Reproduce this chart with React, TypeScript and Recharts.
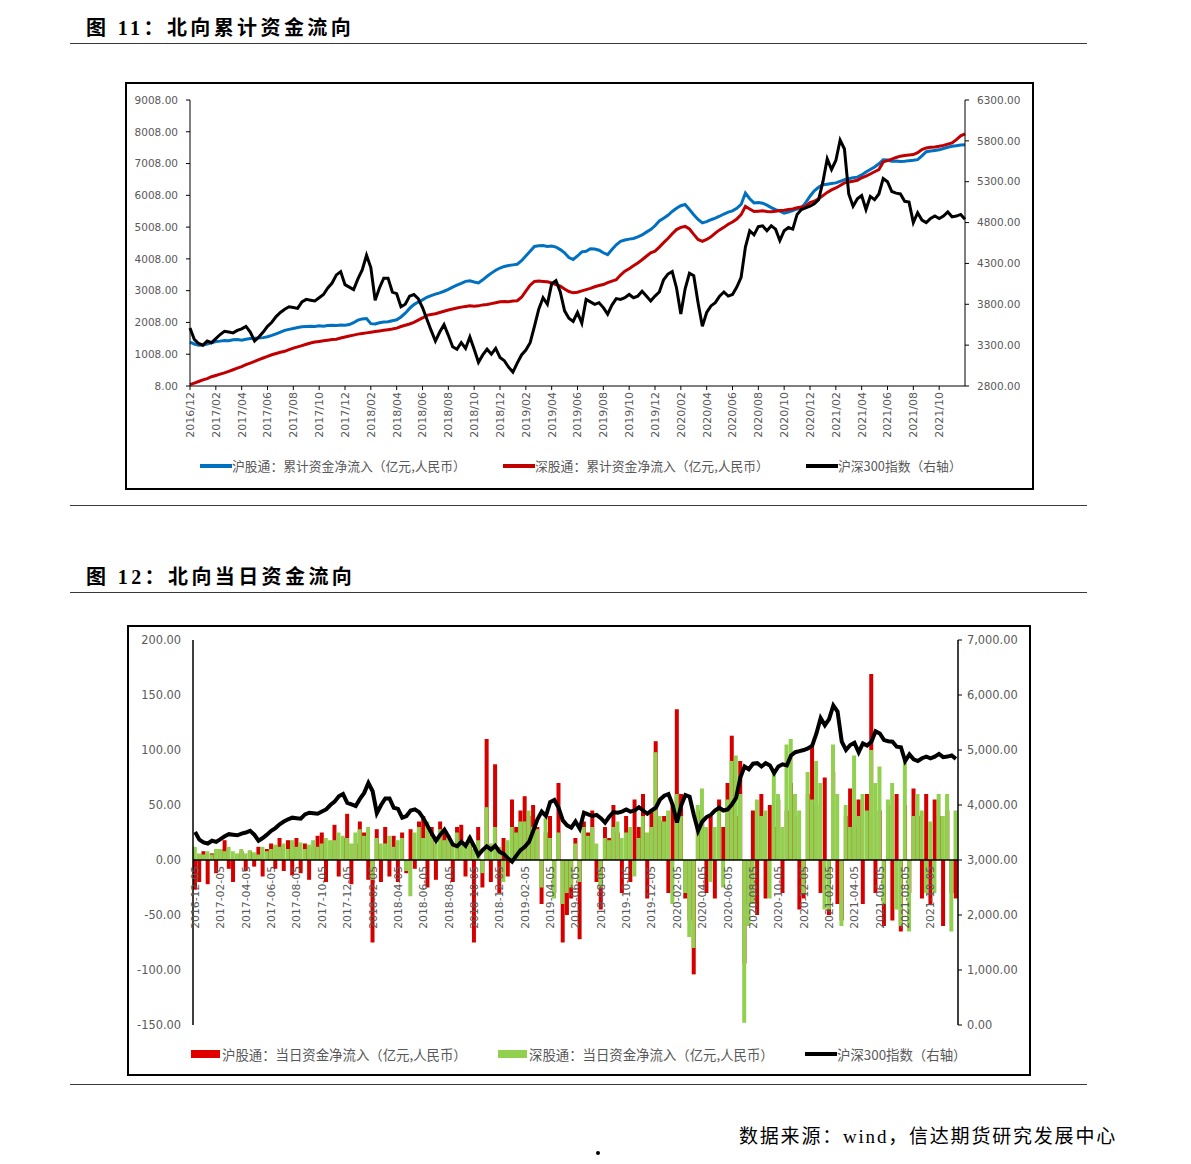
import { LineChart, ComposedChart, Line, Bar, XAxis, YAxis, ReferenceLine } from "recharts";

// months on the category axis (three readings per month: 05 / 15 / 25)
const months = [
  "2016-12",
  "2017-01", "2017-02", "2017-03", "2017-04", "2017-05", "2017-06", "2017-07", "2017-08", "2017-09", "2017-10", "2017-11", "2017-12",
  "2018-01", "2018-02", "2018-03", "2018-04", "2018-05", "2018-06", "2018-07", "2018-08", "2018-09", "2018-10", "2018-11", "2018-12",
  "2019-01", "2019-02", "2019-03", "2019-04", "2019-05", "2019-06", "2019-07", "2019-08", "2019-09", "2019-10", "2019-11", "2019-12",
  "2020-01", "2020-02", "2020-03", "2020-04", "2020-05", "2020-06", "2020-07", "2020-08", "2020-09", "2020-10", "2020-11", "2020-12",
  "2021-01", "2021-02", "2021-03", "2021-04", "2021-05", "2021-06", "2021-07", "2021-08", "2021-09", "2021-10", "2021-11", "2021-12",
];
const days = ["05", "15", "25"];

// 沪股通 cumulative net inflow (亿元)
const hgtCum = [
  1390, 1330, 1290, 1300, 1330, 1370, 1410, 1420, 1440, 1430,
  1460, 1470, 1450, 1480, 1500, 1510, 1520, 1530, 1560, 1600,
  1650, 1700, 1760, 1790, 1820, 1850, 1870, 1880, 1890, 1880,
  1900, 1890, 1910, 1920, 1910, 1930, 1920, 1940, 2000, 2080,
  2120, 2130, 1970, 1960, 2000, 2020, 2030, 2060, 2090, 2180,
  2300, 2450, 2570, 2650, 2720, 2800, 2850, 2900, 2940, 2990,
  3050, 3120, 3180, 3240, 3300, 3320, 3280, 3250, 3350, 3460,
  3560, 3650, 3720, 3770, 3800, 3820, 3840, 3950, 4100, 4250,
  4400, 4420, 4430, 4400, 4410, 4380, 4300, 4200, 4050, 3990,
  4100, 4230, 4250, 4330, 4320, 4280, 4200, 4140, 4300, 4450,
  4560, 4600, 4630, 4650, 4700, 4760, 4850, 4930, 5050, 5200,
  5290, 5380, 5500, 5600, 5680, 5720, 5560, 5400, 5250, 5140,
  5180, 5240, 5290, 5350, 5420, 5480, 5520, 5600, 5720, 6080,
  5900, 5770, 5780, 5760, 5700, 5620, 5560, 5510, 5450, 5480,
  5530, 5580, 5610, 5780, 5980, 6150, 6260, 6340, 6360, 6380,
  6400, 6450, 6500, 6530, 6560, 6580, 6650, 6740, 6820, 6900,
  7000, 7130, 7120, 7080, 7090, 7070, 7080, 7100, 7110, 7130,
  7250, 7380, 7400, 7420, 7440, 7480, 7520, 7550, 7570, 7590,
  7600,
];

// 深股通 cumulative net inflow (亿元)
const sgtCum = [
  50, 100, 150, 200, 240, 300, 340, 380, 420, 470,
  520, 570, 620, 680, 730, 780, 840, 890, 940, 990,
  1030, 1070, 1100, 1150, 1200, 1240, 1280, 1320, 1360, 1390,
  1410, 1430, 1450, 1470, 1480, 1520, 1550, 1580, 1610, 1640,
  1660, 1680, 1700, 1720, 1740, 1760, 1780, 1800, 1830, 1880,
  1920, 1960, 2010, 2080, 2150, 2230, 2260, 2280, 2320, 2360,
  2400, 2430, 2460, 2490, 2510, 2530, 2520, 2530, 2560, 2570,
  2600, 2630, 2660, 2670, 2660, 2680, 2690, 2800, 2990, 3180,
  3300, 3310, 3300, 3290, 3250, 3200, 3150, 3060, 2980, 2940,
  2960, 3000, 3040, 3080, 3130, 3170, 3200, 3260, 3310, 3350,
  3500, 3620, 3700, 3790, 3880, 3980, 4090, 4200, 4250, 4380,
  4520, 4650, 4800, 4930, 5000, 5030, 4950, 4780, 4620, 4560,
  4620, 4700, 4820, 4920, 5000, 5100, 5170, 5260, 5400, 5660,
  5580, 5500, 5510, 5520, 5500, 5490, 5510, 5530, 5540, 5560,
  5580, 5620, 5640, 5660, 5780, 5820, 5900, 6000, 6100, 6180,
  6240, 6320, 6400, 6430, 6450, 6480, 6560, 6610, 6680, 6750,
  6820, 7060, 7100, 7150, 7200, 7240, 7260, 7280, 7290, 7350,
  7450, 7500, 7520, 7530, 7550, 7580, 7620, 7660, 7760, 7880,
  7940,
];

// 沪深300 index (right axis)
const csi300 = [
  3510, 3370, 3320, 3300, 3350, 3330, 3380, 3430, 3470, 3460,
  3450, 3480, 3500, 3530, 3460, 3350, 3400, 3460, 3530, 3580,
  3650, 3700, 3740, 3770, 3760, 3750, 3830, 3860, 3850, 3840,
  3880, 3920, 4000, 4060, 4160, 4200, 4040, 4010, 3980, 4110,
  4220, 4400, 4250, 3850, 4000, 4120, 4120, 3950, 3930, 3770,
  3800, 3900, 3920, 3870, 3760, 3620, 3480, 3350, 3460, 3550,
  3420, 3280, 3250, 3330, 3260, 3400, 3250, 3090, 3180, 3250,
  3190, 3260, 3150, 3110, 3030, 2970, 3080, 3180, 3240, 3330,
  3530, 3740, 3880, 3800, 4050, 4090, 3950, 3720, 3630, 3590,
  3700, 3570, 3860, 3830, 3800, 3820, 3760, 3680, 3790, 3870,
  3860, 3880, 3920, 3880, 3900, 3960, 3900, 3840, 3900, 3950,
  4100, 4170, 4200, 4000, 3680, 3990, 4180, 4150, 3820, 3530,
  3700, 3780, 3820, 3900, 3950, 3900, 3920, 4010, 4130, 4500,
  4700, 4650, 4750, 4760, 4700, 4760, 4720, 4580, 4700, 4740,
  4720, 4900, 4960, 4980, 5000, 5030, 5080, 5300, 5580, 5450,
  5560, 5810, 5700, 5150, 5000, 5090, 5130, 4960, 5120, 5080,
  5150, 5340, 5300, 5180, 5160, 5150, 5060, 5050, 4800, 4920,
  4830, 4800, 4850, 4880, 4850, 4880, 4930, 4870, 4880, 4900,
  4840,
];

// 沪股通 daily net inflow (亿元)
const hgtDaily = [
  -27, -20, 8, -22, 6, -12, 10, 18, -8, -20, 5, 8,
  -10, 8, -6, 12, -15, 10, 15, -8, 20, -10, 18, -14,
  20, -12, 15, -18, 12, 22, 25, -20, 14, 32, -15, 20,
  42, -22, 15, 35, 25, -18, -75, 28, -20, 30, -15, 22,
  -20, 25, -12, 28, -8, 35, 40, -25, 30, -18, 35, 25,
  22, -20, 30, 32, -15, 20, -75, 30, -25, 110, -20, 87,
  -30, 20, -15, 55, 30, 45, 58, 40, 50, 30, -40, 25,
  40, -30, 70, -75, -50, -35, 20, -72, 35, 25, 45, -20,
  -45, 30, 20, 50, 25, -30, 40, -20, 55, 30, 60, -35,
  45, 108, 35, 40, -30, 50, 137, 60, -35, -55, -104, 45,
  35, -30, 40, -35, 55, 30, 70, 113, 40, 90, -94, -40,
  45, -50, 60, -35, 50, 30, 55, -30, 45, 70, 40, -45,
  -35, 60, 104, 50, -30, 75, -50, 80, -40, -55, 40, 65,
  30, 55, -40, 60, 169, -30, 45, -60, 50, -55, 60, -65,
  50, -30, 65, 40, -35, 60, -40, 55, 40, -60, 45, -30,
  -35,
];

// 深股通 daily net inflow (亿元)
const sgtDaily = [
  12, 6, 5, 8, 5, 10, 10, 8, 12, 8, 6, 10,
  6, 9, 7, 5, 12, 8, 10, 14, 12, 15, 10, 18,
  12, 16, 10, 14, 18, 12, 15, 20, 18, 18, 25, 22,
  20, 15, 25, 28, 22, 30, -18, 20, 15, 15, 22, 12,
  18, 20, -10, -33, 25, 30, 20, 35, 22, 15, 28, 18,
  20, 15, 25, 18, 12, 22, 10, 18, -12, 48, 15, 30,
  12, -20, 18, 30, 25, 35, 35, 45, 30, 28, -25, 38,
  20, -35, 25, -40, -30, -25, 15, -20, 30, 22, 30, 15,
  -25, 20, 18, 30, 35, 20, 25, 30, -15, 20, 40, 25,
  30, 98, 40, 35, 45, -40, 60, 40, -30, -70, -80, 50,
  65, 30, -20, 30, 45, -25, 55, 90, 95, 60, -148, -60,
  -40, 55, 40, 45, -35, 80, 60, 30, 105, 110, 60, 45,
  -30, 80, 55, 90, 70, -45, -45, 105, 60, -60, 50, 30,
  95, 40, 60, 45, 100, 70, 85, -40, 55, 70, -45, -60,
  90, -65, 40, 60, 45, -30, 35, -30, 60, 40, 60, -65,
  45,
];

const leftTicks1 = [8, 1008, 2008, 3008, 4008, 5008, 6008, 7008, 8008, 9008];
const rightTicks1 = [2800, 3300, 3800, 4300, 4800, 5300, 5800, 6300];
const leftTicks2 = [-150, -100, -50, 0, 50, 100, 150, 200];
const rightTicks2 = [0, 1000, 2000, 3000, 4000, 5000, 6000, 7000];

const dates = months.flatMap((m) => days.map((d) => `${m}-${d}`)).slice(0, csi300.length);
const labelDates = months.filter((_, j) => j % 2 === 0 && j <= 58).map((m) => `${m}-05`);

const data1 = dates.map((date, i) => ({ date, hgt: hgtCum[i], sgt: sgtCum[i], csi: csi300[i] }));
const data2 = dates.map((date, i) => ({ date, hgt: hgtDaily[i], sgt: sgtDaily[i], csi: csi300[i] }));

const SERIF = '"Liberation Serif", "Noto Sans CJK SC", serif';
const CJK = '"Noto Sans CJK SC", sans-serif';
const NUM = '"DejaVu Sans", sans-serif';
const GREY = "#595959";

const PLOT2_H = 385;
const ZERO_SHIFT = (PLOT2_H * 150) / 350 - 4;

const rule = { position: "absolute" as const, left: 70, width: 1017, height: 1, background: "#3a3a3a" };

const Rot1 = ({ x, y, payload }: any) => (
  <text transform={`translate(${x},${y}) rotate(-90)`} textAnchor="end" dy="0.36em"
    fontSize={11} fill={GREY} fontFamily={NUM}>
    {String(payload.value).slice(0, 7).replace("-", "/")}
  </text>
);

const ZeroTick = ({ x, y, payload }: any) => (
  <text transform={`translate(${x},${y - ZERO_SHIFT}) rotate(-90)`} textAnchor="end" dy="0.36em"
    fontSize={10.8} fill={GREY} fontFamily={NUM}>
    {payload.value}
  </text>
);

const fmt2 = (v: number) => v.toFixed(2);
const fmtComma = (v: number) => v.toLocaleString("en-US", { minimumFractionDigits: 2, maximumFractionDigits: 2 });

function LegendItem({ left, top, color, text, kind, size }: any) {
  return (
    <div style={{ position: "absolute", left, top, display: "flex", alignItems: "center", whiteSpace: "nowrap" }}>
      {kind === "line"
        ? <span style={{ width: 32, height: 4, background: color, display: "inline-block" }} />
        : <span style={{ width: 29, height: 8, background: color, display: "inline-block", marginRight: 2 }} />}
      <span style={{ fontSize: size, color: GREY, fontFamily: CJK, lineHeight: "18px" }}>{text}</span>
    </div>
  );
}

export default function App() {
  return (
    <div style={{ position: "absolute", left: 0, top: 0, width: 1191, height: 1164, background: "#fff", fontFamily: SERIF, color: "#000" }}>
      {/* Figure 11 */}
      <div style={{ position: "absolute", left: 86, top: 15, fontSize: 20, fontWeight: "bold", letterSpacing: 3.4, lineHeight: "26px", whiteSpace: "nowrap" }}>
        图 11：北向累计资金流向
      </div>
      <div style={{ ...rule, top: 43 }} />

      <div style={{ position: "absolute", left: 125, top: 82, width: 909, height: 408, border: "2px solid #000", boxSizing: "border-box" }}>
        <LineChart width={905} height={404} data={data1} margin={{ top: 16, right: 0, bottom: 42, left: 0 }}>
          <XAxis dataKey="date" scale="point" padding={{ left: 0, right: 0 }} ticks={labelDates} interval={0}
            height={60} tickSize={4} tickMargin={2} axisLine={{ stroke: "#000" }} tickLine={{ stroke: "#000" }}
            tick={(p: any) => <Rot1 {...p} />} />
          <YAxis yAxisId="l" domain={[8, 9008]} ticks={leftTicks1} width={63} tickSize={4} tickMargin={8}
            tickFormatter={fmt2} axisLine={{ stroke: "#000" }} tickLine={{ stroke: "#000" }}
            tick={{ fill: GREY, fontSize: 10.5, fontFamily: NUM }} />
          <YAxis yAxisId="r" orientation="right" domain={[2800, 6300]} ticks={rightTicks1} width={67} tickSize={4} tickMargin={8}
            tickFormatter={fmt2} axisLine={{ stroke: "#000" }} tickLine={{ stroke: "#000" }}
            tick={{ fill: GREY, fontSize: 10.5, fontFamily: NUM }} />
          <Line yAxisId="l" dataKey="hgt" stroke="#0070C0" strokeWidth={3} dot={false} isAnimationActive={false} />
          <Line yAxisId="l" dataKey="sgt" stroke="#C00000" strokeWidth={3} dot={false} isAnimationActive={false} />
          <Line yAxisId="r" dataKey="csi" stroke="#000" strokeWidth={3} dot={false} isAnimationActive={false} />
        </LineChart>
        <LegendItem left={73} top={373} color="#0070C0" kind="line" size={12.8} text="沪股通：累计资金净流入（亿元,人民币）" />
        <LegendItem left={376} top={373} color="#C00000" kind="line" size={12.8} text="深股通：累计资金净流入（亿元,人民币）" />
        <LegendItem left={679} top={373} color="#000" kind="line" size={12.8} text="沪深300指数（右轴）" />
      </div>
      <div style={{ ...rule, top: 505 }} />

      {/* Figure 12 */}
      <div style={{ position: "absolute", left: 86, top: 564, fontSize: 20, fontWeight: "bold", letterSpacing: 3.4, lineHeight: "26px", whiteSpace: "nowrap" }}>
        图 12：北向当日资金流向
      </div>
      <div style={{ ...rule, top: 592 }} />

      <div style={{ position: "absolute", left: 127, top: 625, width: 904, height: 451, border: "2px solid #000", boxSizing: "border-box" }}>
        <ComposedChart width={900} height={447} data={data2} margin={{ top: 13, right: 0, bottom: 48, left: 0 }}
          barCategoryGap={0} barGap="-100%">
          <XAxis dataKey="date" ticks={labelDates} interval={0} height={1} tickSize={0} axisLine={false} tickLine={false}
            tick={(p: any) => <ZeroTick {...p} />} />
          <YAxis yAxisId="l" domain={[-150, 200]} ticks={leftTicks2} width={64} tickSize={4} tickMargin={8}
            tickFormatter={fmt2} axisLine={{ stroke: "#000", strokeWidth: 1.5 }} tickLine={false}
            tick={{ fill: GREY, fontSize: 11.4, fontFamily: NUM }} />
          <YAxis yAxisId="r" orientation="right" domain={[0, 7000]} ticks={rightTicks2} width={71} tickSize={4} tickMargin={5}
            tickFormatter={fmtComma} axisLine={{ stroke: "#000", strokeWidth: 1.5 }} tickLine={{ stroke: "#000" }}
            tick={{ fill: GREY, fontSize: 11.4, fontFamily: NUM }} />
          <Bar yAxisId="l" dataKey="hgt" fill="#D40000" isAnimationActive={false} />
          <Bar yAxisId="l" dataKey="sgt" fill="#92D050" isAnimationActive={false} />
          <ReferenceLine yAxisId="l" y={0} stroke="#000" strokeWidth={1.5} />
          <Line yAxisId="r" dataKey="csi" stroke="#000" strokeWidth={4} dot={false} isAnimationActive={false} />
        </ComposedChart>
        <LegendItem left={62} top={418} color="#E00000" kind="rect" size={13.4} text="沪股通：当日资金净流入（亿元,人民币）" />
        <LegendItem left={369} top={418} color="#92D050" kind="rect" size={13.4} text="深股通：当日资金净流入（亿元,人民币）" />
        <LegendItem left={676} top={418} color="#000" kind="line" size={13.4} text="沪深300指数（右轴）" />
      </div>
      <div style={{ ...rule, top: 1084 }} />

      <div style={{ position: "absolute", right: 1191 - 1117, top: 1121, fontSize: 19, letterSpacing: 1.8, whiteSpace: "nowrap", fontFamily: SERIF }}>
        数据来源：wind，信达期货研究发展中心
      </div>
      <div style={{ position: "absolute", left: 596, top: 1151, width: 4, height: 4, borderRadius: 2, background: "#000" }} />
    </div>
  );
}
